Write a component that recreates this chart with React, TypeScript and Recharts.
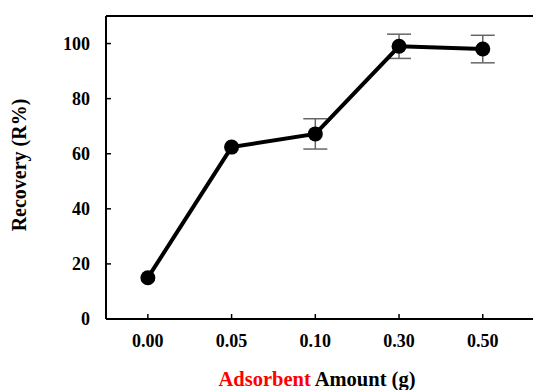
import { LineChart, Line, XAxis, YAxis, ErrorBar, ReferenceLine, Label } from "recharts"

const categories = ["0.00", "0.05", "0.10", "0.30", "0.50"]
const recovery = [15, 62.4, 67.2, 99, 98]
// first two errors are smaller than the marker and hidden behind it in the figure
const errors = [null, null, 5.5, 4.4, 5]
const yTicks = [0, 20, 40, 60, 80, 100]

const data = categories.map((c, i) => ({ x: i, label: c, value: recovery[i], err: errors[i] }))

const FONT = "'Liberation Serif', 'Times New Roman', serif"

function YTick({ x, y, payload }: any) {
  return (
    <g>
      <line x1={x} y1={y} x2={x + 5} y2={y} stroke="#000" strokeWidth={1.5} />
      <text x={x - 16} y={y + 6} textAnchor="end" fontFamily={FONT} fontWeight="bold" fontSize={18} fill="#000">
        {payload.value}
      </text>
    </g>
  )
}

function XTick({ x, y, payload }: any) {
  return (
    <g>
      <line x1={x} y1={y} x2={x} y2={y - 5} stroke="#000" strokeWidth={1.5} />
      <text x={x} y={y + 28} textAnchor="middle" fontFamily={FONT} fontWeight="bold" fontSize={18} fill="#000">
        {categories[payload.value]}
      </text>
    </g>
  )
}

export default function App() {
  return (
    <div style={{ position: "absolute", left: 0, top: 0, background: "#fff" }}>
      <LineChart width={533} height={390} data={data} margin={{ top: 16, right: 0, bottom: 0, left: 0 }}>
        <XAxis
          dataKey="x"
          type="number"
          domain={[-0.5, 4.6]}
          ticks={[0, 1, 2, 3, 4]}
          height={71}
          tickSize={0}
          tickMargin={0}
          tickLine={false}
          tick={<XTick />}
          axisLine={{ stroke: "#000", strokeWidth: 2 }}
          interval={0}
        >
          <Label
            content={() => (
              <text x={317} y={386} textAnchor="middle" fontFamily={FONT} fontWeight="bold" fontSize={20.5} fill="#000">
                <tspan fill="#ff0000">Adsorbent</tspan> Amount (g)
              </text>
            )}
          />
        </XAxis>
        <YAxis
          type="number"
          domain={[0, 110]}
          ticks={yTicks}
          width={106}
          tickSize={0}
          tickMargin={0}
          tickLine={false}
          tick={<YTick />}
          axisLine={{ stroke: "#000", strokeWidth: 2 }}
          interval={0}
        >
          <Label
            content={() => (
              <text
                x={26}
                y={165}
                transform="rotate(-90 26 165)"
                textAnchor="middle"
                fontFamily={FONT}
                fontWeight="bold"
                fontSize={20}
                fill="#000"
              >
                Recovery (R%)
              </text>
            )}
          />
        </YAxis>
        <ReferenceLine y={110} stroke="#000" strokeWidth={2} />
        <Line
          dataKey="value"
          stroke="#000"
          strokeWidth={4}
          dot={{ r: 7.5, fill: "#000", stroke: "#000", strokeWidth: 0 }}
          activeDot={false}
          isAnimationActive={false}
        >
          <ErrorBar dataKey="err" width={12} stroke="#666" strokeWidth={1.5} direction="y" />
        </Line>
      </LineChart>
    </div>
  )
}
